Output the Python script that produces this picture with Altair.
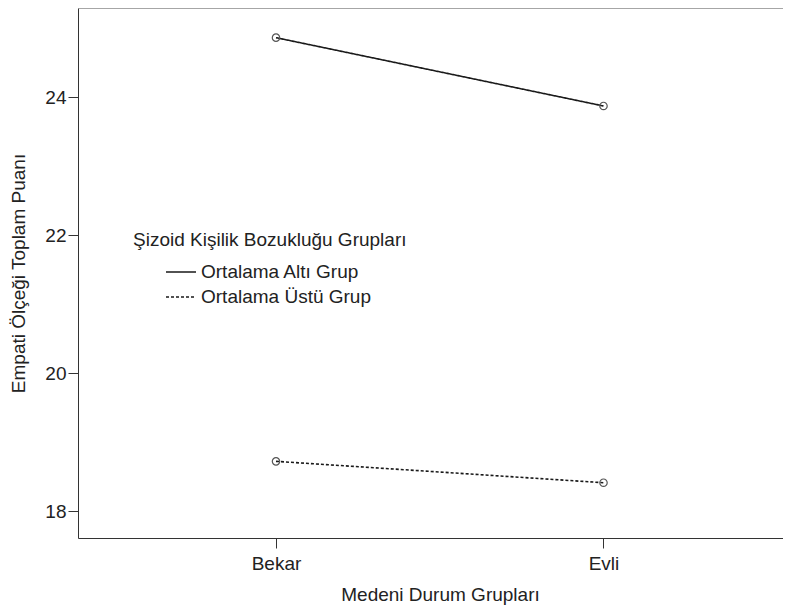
import altair as alt
import pandas as pd

# Data
groups = ["Bekar", "Evli"]
series_names = ["Ortalama Altı Grup", "Ortalama Üstü Grup"]
alti_values = [24.86, 23.87]
ustu_values = [18.72, 18.41]

rows = []
for g, v in zip(groups, alti_values):
    rows.append({"grup": g, "seri": series_names[0], "puan": v})
for g, v in zip(groups, ustu_values):
    rows.append({"grup": g, "seri": series_names[1], "puan": v})
df = pd.DataFrame(rows)

FONT = "Liberation Sans"
FS = 19
W, H = 740, 530
PAD_L, PAD_R = 70, -35
VISIBLE_W = W + PAD_R  # width of the plot that lies inside the svg

x_enc = alt.X(
    "grup:N",
    sort=groups,
    scale=alt.Scale(type="point", padding=0.6046, range=[0, 723.5]),
    axis=alt.Axis(
        title="Medeni Durum Grupları",
        labelAngle=0,
        tickSize=10,
        labelPadding=6,
        titlePadding=12,
        titleX=362,
        grid=False,
        domainColor="#333333",
        tickColor="#333333",
    ),
)
y_enc = alt.Y(
    "puan:Q",
    scale=alt.Scale(domain=[17.609, 25.29], nice=False, zero=False),
    axis=alt.Axis(
        title="Empati Ölçeği Toplam Puanı",
        values=[18, 20, 22, 24],
        grid=False,
        tickSize=10,
        labelPadding=2,
        titlePadding=16,
        domainColor="#333333",
        tickColor="#333333",
    ),
)

lines = alt.Chart(df).mark_line(color="#1a1a1a", strokeWidth=1.6).encode(
    x=x_enc,
    y=y_enc,
    strokeDash=alt.StrokeDash(
        "seri:N",
        sort=series_names,
        scale=alt.Scale(domain=series_names, range=[[1, 0], [3, 2]]),
        legend=alt.Legend(
            title=None,
            orient="none",
            legendX=87,
            legendY=254,
            symbolType="stroke",
            symbolStrokeColor="#1a1a1a",
            symbolStrokeWidth=1.6,
            symbolSize=900,
            clipHeight=20,
            rowPadding=5,
            labelOffset=4,
            labelLimit=0,
            labelFont=FONT,
            labelFontSize=FS,
            labelColor="#222222",
        ),
    ),
    detail="seri:N",
)

points = alt.Chart(df).mark_point(
    filled=False, color="#555555", size=55, strokeWidth=1.2, opacity=1
).encode(x=x_enc, y=y_enc, detail="seri:N")

legend_title = alt.Chart(pd.DataFrame({"t": ["Şizoid Kişilik Bozukluğu Grupları"]})).mark_text(
    align="left", baseline="middle", font=FONT, fontSize=FS, color="#222222"
).encode(x=alt.value(55), y=alt.value(232), text="t:N")

# top frame line
top_border = alt.Chart(pd.DataFrame({"a": [0]})).mark_rule(
    color="#888888", strokeWidth=1.5
).encode(x=alt.value(0), x2=alt.value(VISIBLE_W + 5), y=alt.value(0), y2=alt.value(0))

# white cover for the stray edge line at the right border of the svg
edge_cover = alt.Chart(pd.DataFrame({"a": [0]})).mark_rule(
    color="white", strokeWidth=4
).encode(x=alt.value(VISIBLE_W - 1), y=alt.value(1.5), y2=alt.value(H - 1))

chart = (
    alt.layer(top_border, lines, points, legend_title, edge_cover)
    .properties(
        width=W,
        height=H,
        background="white",
        autosize=alt.AutoSizeParams(type="none"),
        padding={"left": PAD_L, "top": 0, "right": PAD_R, "bottom": 67},
    )
    .configure_view(strokeWidth=0, stroke="transparent", fill="white")
    .configure_axis(
        labelFont=FONT,
        titleFont=FONT,
        labelFontSize=FS,
        titleFontSize=FS,
        titleFontWeight="normal",
        labelColor="#222222",
        titleColor="#222222",
    )
)

chart.save("out.html", embed_options={"renderer": "svg", "actions": False})
